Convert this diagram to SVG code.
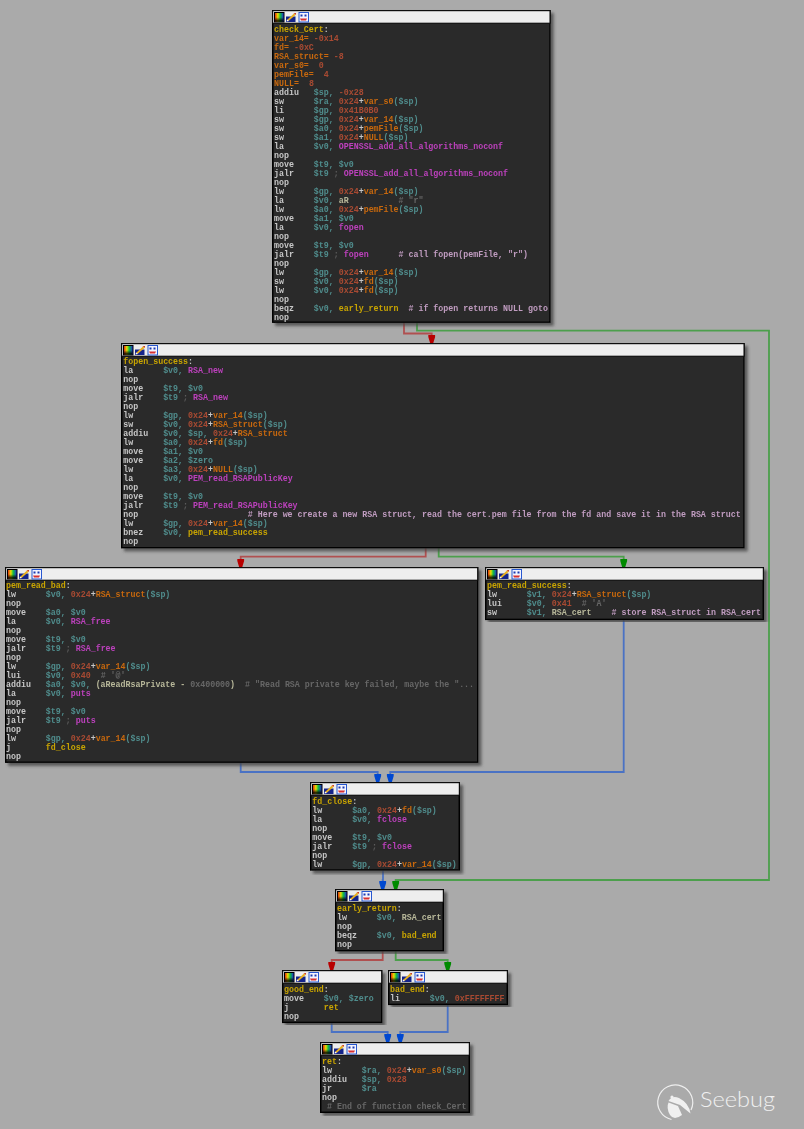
<svg xmlns="http://www.w3.org/2000/svg" width="804" height="1129" viewBox="0 0 804 1129">
<style>
.bg{fill:#aaaaaa}
.box{fill:#2b2b2b;stroke:#000;stroke-width:1.4;filter:url(#sh)}
.bar{fill:#eeeeee;stroke:#000;stroke-width:1}
.asm{filter:url(#soft)}
.asm text{font-family:"Liberation Mono",monospace;font-size:8.31px;font-weight:bold;fill:#c6c6c6;white-space:pre}
.l{fill:#c8a400}.v{fill:#c8680c}.n{fill:#a84a32}.r{fill:#4f8c8c}.f{fill:#bc40bc}.c{fill:#c09cc0}.g{fill:#666666}.d{fill:#b8b89a}.s{fill:#5c5c5c}
.e{fill:none;stroke-width:1.8}
.er{stroke:#b05050;marker-end:url(#ar)}.eg{stroke:#4c9f4c;marker-end:url(#ag)}.eb{stroke:#4a72c4;marker-end:url(#ab)}
</style>
<defs>
<filter id="sh" x="-5%" y="-5%" width="110%" height="110%"><feDropShadow dx="3" dy="3" stdDeviation="1.4" flood-color="#444444" flood-opacity="0.8"/></filter>
<filter id="soft" x="-2%" y="-2%" width="104%" height="104%"><feGaussianBlur stdDeviation="0.25"/></filter>
<linearGradient id="rb" x1="0" x2="1" y1="0" y2="0"><stop offset="0" stop-color="#e01010"/><stop offset="0.35" stop-color="#e8e000"/><stop offset="0.6" stop-color="#10c040"/><stop offset="1" stop-color="#2020e0"/></linearGradient>
<linearGradient id="bk" x1="0" x2="0" y1="0" y2="1"><stop offset="0" stop-color="#000" stop-opacity="0"/><stop offset="0.5" stop-color="#000" stop-opacity="0"/><stop offset="1" stop-color="#000"/></linearGradient>
<marker id="ar" markerUnits="userSpaceOnUse" markerWidth="10" markerHeight="10" refX="8" refY="4" orient="auto"><path d="M0 0.6H2L8 2.4V5.6L2 7.4H0Z" fill="#b80000"/></marker>
<marker id="ag" markerUnits="userSpaceOnUse" markerWidth="10" markerHeight="10" refX="8" refY="4" orient="auto"><path d="M0 0.6H2L8 2.4V5.6L2 7.4H0Z" fill="#008a00"/></marker>
<marker id="ab" markerUnits="userSpaceOnUse" markerWidth="10" markerHeight="10" refX="8" refY="4" orient="auto"><path d="M0 0.6H2L8 2.4V5.6L2 7.4H0Z" fill="#0048d0"/></marker>
<g id="icons">
<rect x="0.5" y="0.5" width="9.5" height="9.5" fill="url(#rb)" stroke="#000"/><rect x="1" y="1" width="8.5" height="8.5" fill="url(#bk)"/>
<rect x="12" y="4.5" width="9.5" height="5.5" fill="#14248c"/><path d="M13 8L20 1.5L21.5 3L14.5 9Z" fill="#e8b020"/><path d="M12.5 9.5L13 7.5L15 9Z" fill="#ffffff"/><path d="M19.5 1L22 1V3Z" fill="#d04020"/>
<rect x="25" y="0.5" width="9.5" height="9.5" fill="#f4f4ff" stroke="#2858d0"/><rect x="26.5" y="2.5" width="2" height="2" fill="#1838b0"/><rect x="30.5" y="2.5" width="2" height="2" fill="#1838b0"/><path d="M26 6.5H33L32 8.5H27Z" fill="#d83030"/>
</g>
</defs>
<rect class="bg" width="804" height="1129"/>
<g id="connectors">
<path class="e er" d="M404 322V333.5H431.7V343"/>
<path class="e eg" d="M417 322V330.7H769V880H395.7V889"/>
<path class="e er" d="M425.7 548V556.7H240.7V567"/>
<path class="e eg" d="M438.7 548V556.7H623.7V567"/>
<path class="e eb" d="M240.7 763V772H377.7V782"/>
<path class="e eb" d="M623.7 620V772H390.3V782"/>
<path class="e eb" d="M383 870V880H382.7V889"/>
<path class="e er" d="M382.7 951V960H331.7V970"/>
<path class="e eg" d="M395.7 951V960H447.7V970"/>
<path class="e eb" d="M331.7 1022V1032H387.7V1042"/>
<path class="e eb" d="M447.7 1004V1032H400.3V1042"/>
</g>
<g id="check_Cert">
<rect class="box" x="272.7" y="10.7" width="277.3" height="311.5"/><rect class="bar" x="272.7" y="10.7" width="277.3" height="12.5"/><use href="#icons" x="274" y="12"/>
<g class="asm" transform="translate(274,32)" xml:space="preserve">
<text y="0"><tspan class="l">check_Cert</tspan>:</text>
<text y="9"><tspan class="v">var_14=</tspan> <tspan class="n">-0x14</tspan></text>
<text y="18"><tspan class="v">fd=</tspan> <tspan class="n">-0xC</tspan></text>
<text y="27"><tspan class="v">RSA_struct=</tspan> <tspan class="n">-8</tspan></text>
<text y="36"><tspan class="v">var_s0=</tspan>  <tspan class="n">0</tspan></text>
<text y="45"><tspan class="v">pemFile=</tspan>  <tspan class="n">4</tspan></text>
<text y="54"><tspan class="v">NULL=</tspan>  <tspan class="n">8</tspan></text>
<text y="63">addiu   <tspan class="r">$sp,</tspan> <tspan class="n">-0x28</tspan></text>
<text y="72">sw      <tspan class="r">$ra,</tspan> <tspan class="n">0x24</tspan>+<tspan class="v">var_s0</tspan><tspan class="r">($sp)</tspan></text>
<text y="81">li      <tspan class="r">$gp,</tspan> <tspan class="n">0x41B0B0</tspan></text>
<text y="90">sw      <tspan class="r">$gp,</tspan> <tspan class="n">0x24</tspan>+<tspan class="v">var_14</tspan><tspan class="r">($sp)</tspan></text>
<text y="99">sw      <tspan class="r">$a0,</tspan> <tspan class="n">0x24</tspan>+<tspan class="v">pemFile</tspan><tspan class="r">($sp)</tspan></text>
<text y="108">sw      <tspan class="r">$a1,</tspan> <tspan class="n">0x24</tspan>+<tspan class="v">NULL</tspan><tspan class="r">($sp)</tspan></text>
<text y="117">la      <tspan class="r">$v0,</tspan> <tspan class="f">OPENSSL_add_all_algorithms_noconf</tspan></text>
<text y="126">nop</text>
<text y="135">move    <tspan class="r">$t9, $v0</tspan></text>
<text y="144">jalr    <tspan class="r">$t9</tspan> <tspan class="s">;</tspan> <tspan class="f">OPENSSL_add_all_algorithms_noconf</tspan></text>
<text y="153">nop</text>
<text y="162">lw      <tspan class="r">$gp,</tspan> <tspan class="n">0x24</tspan>+<tspan class="v">var_14</tspan><tspan class="r">($sp)</tspan></text>
<text y="171">la      <tspan class="r">$v0,</tspan> <tspan class="d">aR</tspan>          <tspan class="g"># "r"</tspan></text>
<text y="180">lw      <tspan class="r">$a0,</tspan> <tspan class="n">0x24</tspan>+<tspan class="v">pemFile</tspan><tspan class="r">($sp)</tspan></text>
<text y="189">move    <tspan class="r">$a1, $v0</tspan></text>
<text y="198">la      <tspan class="r">$v0,</tspan> <tspan class="f">fopen</tspan></text>
<text y="207">nop</text>
<text y="216">move    <tspan class="r">$t9, $v0</tspan></text>
<text y="225">jalr    <tspan class="r">$t9</tspan> <tspan class="s">;</tspan> <tspan class="f">fopen</tspan>      <tspan class="c"># call fopen(pemFile, "r")</tspan></text>
<text y="234">nop</text>
<text y="243">lw      <tspan class="r">$gp,</tspan> <tspan class="n">0x24</tspan>+<tspan class="v">var_14</tspan><tspan class="r">($sp)</tspan></text>
<text y="252">sw      <tspan class="r">$v0,</tspan> <tspan class="n">0x24</tspan>+<tspan class="v">fd</tspan><tspan class="r">($sp)</tspan></text>
<text y="261">lw      <tspan class="r">$v0,</tspan> <tspan class="n">0x24</tspan>+<tspan class="v">fd</tspan><tspan class="r">($sp)</tspan></text>
<text y="270">nop</text>
<text y="279">beqz    <tspan class="r">$v0,</tspan> <tspan class="l">early_return</tspan>  <tspan class="c"># if fopen returns NULL goto</tspan></text>
<text y="288">nop</text>
</g></g>
<g id="fopen_success">
<rect class="box" x="121.7" y="343.7" width="622.3" height="204"/><rect class="bar" x="121.7" y="343.7" width="622.3" height="12.5"/><use href="#icons" x="123" y="345"/>
<g class="asm" transform="translate(123.3,364.4)" xml:space="preserve">
<text y="0"><tspan class="l">fopen_success</tspan>:</text>
<text y="9">la      <tspan class="r">$v0,</tspan> <tspan class="f">RSA_new</tspan></text>
<text y="18">nop</text>
<text y="27">move    <tspan class="r">$t9, $v0</tspan></text>
<text y="36">jalr    <tspan class="r">$t9</tspan> <tspan class="s">;</tspan> <tspan class="f">RSA_new</tspan></text>
<text y="45">nop</text>
<text y="54">lw      <tspan class="r">$gp,</tspan> <tspan class="n">0x24</tspan>+<tspan class="v">var_14</tspan><tspan class="r">($sp)</tspan></text>
<text y="63">sw      <tspan class="r">$v0,</tspan> <tspan class="n">0x24</tspan>+<tspan class="v">RSA_struct</tspan><tspan class="r">($sp)</tspan></text>
<text y="72">addiu   <tspan class="r">$v0, $sp,</tspan> <tspan class="n">0x24</tspan>+<tspan class="v">RSA_struct</tspan></text>
<text y="81">lw      <tspan class="r">$a0,</tspan> <tspan class="n">0x24</tspan>+<tspan class="v">fd</tspan><tspan class="r">($sp)</tspan></text>
<text y="90">move    <tspan class="r">$a1, $v0</tspan></text>
<text y="99">move    <tspan class="r">$a2, $zero</tspan></text>
<text y="108">lw      <tspan class="r">$a3,</tspan> <tspan class="n">0x24</tspan>+<tspan class="v">NULL</tspan><tspan class="r">($sp)</tspan></text>
<text y="117">la      <tspan class="r">$v0,</tspan> <tspan class="f">PEM_read_RSAPublicKey</tspan></text>
<text y="126">nop</text>
<text y="135">move    <tspan class="r">$t9, $v0</tspan></text>
<text y="144">jalr    <tspan class="r">$t9</tspan> <tspan class="s">;</tspan> <tspan class="f">PEM_read_RSAPublicKey</tspan></text>
<text y="153">nop                      <tspan class="c"># Here we create a new RSA struct, read the cert.pem file from the fd and save it in the RSA struct</tspan></text>
<text y="162">lw      <tspan class="r">$gp,</tspan> <tspan class="n">0x24</tspan>+<tspan class="v">var_14</tspan><tspan class="r">($sp)</tspan></text>
<text y="171">bnez    <tspan class="r">$v0,</tspan> <tspan class="l">pem_read_success</tspan></text>
<text y="180">nop</text>
</g></g>
<g id="pem_read_bad">
<rect class="box" x="5.7" y="567.7" width="472" height="194.5"/><rect class="bar" x="5.7" y="567.7" width="472" height="12.5"/><use href="#icons" x="7" y="569"/>
<g class="asm" transform="translate(6,588.4)" xml:space="preserve">
<text y="0"><tspan class="l">pem_read_bad</tspan>:</text>
<text y="9">lw      <tspan class="r">$v0,</tspan> <tspan class="n">0x24</tspan>+<tspan class="v">RSA_struct</tspan><tspan class="r">($sp)</tspan></text>
<text y="18">nop</text>
<text y="27">move    <tspan class="r">$a0, $v0</tspan></text>
<text y="36">la      <tspan class="r">$v0,</tspan> <tspan class="f">RSA_free</tspan></text>
<text y="45">nop</text>
<text y="54">move    <tspan class="r">$t9, $v0</tspan></text>
<text y="63">jalr    <tspan class="r">$t9</tspan> <tspan class="s">;</tspan> <tspan class="f">RSA_free</tspan></text>
<text y="72">nop</text>
<text y="81">lw      <tspan class="r">$gp,</tspan> <tspan class="n">0x24</tspan>+<tspan class="v">var_14</tspan><tspan class="r">($sp)</tspan></text>
<text y="90">lui     <tspan class="r">$v0,</tspan> <tspan class="n">0x40</tspan>  <tspan class="g"># '@'</tspan></text>
<text y="99">addiu   <tspan class="r">$a0, $v0,</tspan> <tspan class="d">(aReadRsaPrivate - </tspan><tspan class="g">0x400000</tspan><tspan class="d">)</tspan>  <tspan class="g"># "Read RSA private key failed, maybe the "...</tspan></text>
<text y="108">la      <tspan class="r">$v0,</tspan> <tspan class="f">puts</tspan></text>
<text y="117">nop</text>
<text y="126">move    <tspan class="r">$t9, $v0</tspan></text>
<text y="135">jalr    <tspan class="r">$t9</tspan> <tspan class="s">;</tspan> <tspan class="f">puts</tspan></text>
<text y="144">nop</text>
<text y="153">lw      <tspan class="r">$gp,</tspan> <tspan class="n">0x24</tspan>+<tspan class="v">var_14</tspan><tspan class="r">($sp)</tspan></text>
<text y="162">j       <tspan class="l">fd_close</tspan></text>
<text y="171">nop</text>
</g></g>
<g id="pem_read_success">
<rect class="box" x="485.7" y="567.7" width="277.6" height="51.7"/><rect class="bar" x="485.7" y="567.7" width="277.6" height="12.5"/><use href="#icons" x="487" y="569"/>
<g class="asm" transform="translate(487,588.4)" xml:space="preserve">
<text y="0"><tspan class="l">pem_read_success</tspan>:</text>
<text y="9">lw      <tspan class="r">$v1,</tspan> <tspan class="n">0x24</tspan>+<tspan class="v">RSA_struct</tspan><tspan class="r">($sp)</tspan></text>
<text y="18">lui     <tspan class="r">$v0,</tspan> <tspan class="n">0x41</tspan>  <tspan class="g"># 'A'</tspan></text>
<text y="27">sw      <tspan class="r">$v1,</tspan> <tspan class="d">RSA_cert</tspan>    <tspan class="c"># store RSA_struct in RSA_cert</tspan></text>
</g></g>
<g id="fd_close">
<rect class="box" x="310.7" y="782.7" width="148.6" height="87.3"/><rect class="bar" x="310.7" y="782.7" width="148.6" height="12.5"/><use href="#icons" x="312" y="784"/>
<g class="asm" transform="translate(312.3,804.4)" xml:space="preserve">
<text y="0"><tspan class="l">fd_close</tspan>:</text>
<text y="9">lw      <tspan class="r">$a0,</tspan> <tspan class="n">0x24</tspan>+<tspan class="v">fd</tspan><tspan class="r">($sp)</tspan></text>
<text y="18">la      <tspan class="r">$v0,</tspan> <tspan class="f">fclose</tspan></text>
<text y="27">nop</text>
<text y="36">move    <tspan class="r">$t9, $v0</tspan></text>
<text y="45">jalr    <tspan class="r">$t9</tspan> <tspan class="s">;</tspan> <tspan class="f">fclose</tspan></text>
<text y="54">nop</text>
<text y="63">lw      <tspan class="r">$gp,</tspan> <tspan class="n">0x24</tspan>+<tspan class="v">var_14</tspan><tspan class="r">($sp)</tspan></text>
</g></g>
<g id="early_return">
<rect class="box" x="335.7" y="889.7" width="107.6" height="61"/><rect class="bar" x="335.7" y="889.7" width="107.6" height="12.5"/><use href="#icons" x="337" y="891"/>
<g class="asm" transform="translate(337,911.4)" xml:space="preserve">
<text y="0"><tspan class="l">early_return</tspan>:</text>
<text y="9">lw      <tspan class="r">$v0,</tspan> <tspan class="d">RSA_cert</tspan></text>
<text y="18">nop</text>
<text y="27">beqz    <tspan class="r">$v0,</tspan> <tspan class="l">bad_end</tspan></text>
<text y="36">nop</text>
</g></g>
<g id="good_end">
<rect class="box" x="282.7" y="970.7" width="99" height="51.7"/><rect class="bar" x="282.7" y="970.7" width="99" height="12.5"/><use href="#icons" x="284" y="972"/>
<g class="asm" transform="translate(284,992.4)" xml:space="preserve">
<text y="0"><tspan class="l">good_end</tspan>:</text>
<text y="9">move    <tspan class="r">$v0, $zero</tspan></text>
<text y="18">j       <tspan class="l">ret</tspan></text>
<text y="27">nop</text>
</g></g>
<g id="bad_end">
<rect class="box" x="388.7" y="970.7" width="118.6" height="33.7"/><rect class="bar" x="388.7" y="970.7" width="118.6" height="12.5"/><use href="#icons" x="390" y="972"/>
<g class="asm" transform="translate(390,992.4)" xml:space="preserve">
<text y="0"><tspan class="l">bad_end</tspan>:</text>
<text y="9">li      <tspan class="r">$v0,</tspan> <tspan class="n">0xFFFFFFFF</tspan></text>
</g></g>
<g id="ret">
<rect class="box" x="320.7" y="1042.7" width="148.6" height="69.6"/><rect class="bar" x="320.7" y="1042.7" width="148.6" height="12.5"/><use href="#icons" x="322" y="1044"/>
<g class="asm" transform="translate(322,1064.4)" xml:space="preserve">
<text y="0"><tspan class="l">ret</tspan>:</text>
<text y="9">lw      <tspan class="r">$ra,</tspan> <tspan class="n">0x24</tspan>+<tspan class="v">var_s0</tspan><tspan class="r">($sp)</tspan></text>
<text y="18">addiu   <tspan class="r">$sp,</tspan> <tspan class="n">0x28</tspan></text>
<text y="27">jr      <tspan class="r">$ra</tspan></text>
<text y="36">nop</text>
<text y="45"> <tspan class="g"># End of function check_Cert</tspan></text>
</g></g>
<g id="logo">
<path d="M671.5 1119.5A17.5 17.5 0 1 1 691 1110" fill="none" stroke="#eeeeee" stroke-width="1.2"/>
<path d="M668.5 1101Q672 1095 679 1098Q689 1103 690.5 1113.5L680 1105L668.5 1101Z" fill="#f0f0f0"/>
<path d="M668.5 1102.5L678 1106L682 1115Q674 1121 670 1115Q666 1108 668.5 1102.5Z" fill="#f0f0f0"/>
<circle cx="672" cy="1097" r="1.6" fill="#f0f0f0"/>
<text x="700" y="1107" font-family="Lato,'Open Sans',sans-serif" font-weight="300" font-size="22" fill="#f0f0f0" textLength="75" lengthAdjust="spacingAndGlyphs">Seebug</text>
</g>
</svg>
